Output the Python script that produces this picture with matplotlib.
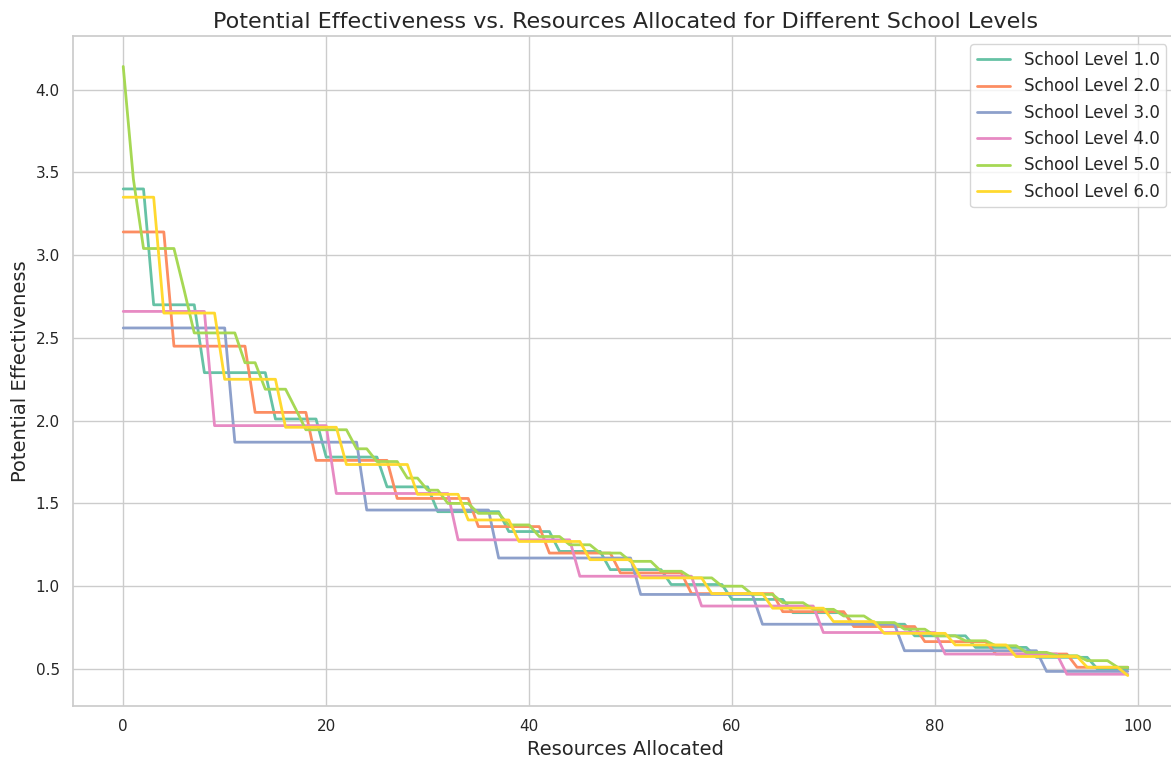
import numpy as np
import matplotlib
matplotlib.use("Agg")
import matplotlib.pyplot as plt
import seaborn as sns

# x positions where each step begins, and the value held from there on
resources = np.arange(100)

lvl1_start = [0, 3, 8, 15, 20, 26, 31, 38, 43, 48, 54, 60, 66, 72, 78, 84, 90, 96]
lvl1_value = [3.40, 2.70, 2.29, 2.01, 1.78, 1.60, 1.45, 1.33, 1.21, 1.10, 1.01, 0.92,
              0.84, 0.77, 0.70, 0.63, 0.57, 0.50]

lvl2_start = [0, 5, 13, 19, 27, 35, 42, 49, 56, 65, 72, 79, 86, 94]
lvl2_value = [3.14, 2.45, 2.05, 1.76, 1.53, 1.36, 1.20, 1.08, 0.955, 0.846, 0.756,
              0.665, 0.59, 0.51]

lvl3_start = [0, 11, 24, 37, 51, 63, 77, 91]
lvl3_value = [2.56, 1.87, 1.46, 1.17, 0.95, 0.77, 0.61, 0.485]

lvl4_start = [0, 9, 21, 33, 45, 57, 69, 81, 93]
lvl4_value = [2.66, 1.97, 1.56, 1.28, 1.06, 0.88, 0.72, 0.59, 0.468]

lvl5_start = [0, 1, 2, 6, 7, 12, 14, 17, 18, 23, 25, 28, 30, 32, 35, 38, 41, 44, 47,
              50, 53, 56, 59, 62, 65, 68, 71, 74, 77, 80, 83, 86, 89, 92, 95, 98]
lvl5_value = [4.14, 3.46, 3.04, 2.79, 2.53, 2.35, 2.19, 2.07, 1.945, 1.83, 1.753, 1.653,
              1.58, 1.50, 1.44, 1.37, 1.30, 1.25, 1.20, 1.15, 1.09, 1.05, 1.00, 0.95,
              0.90, 0.86, 0.82, 0.78, 0.74, 0.70, 0.67, 0.64, 0.60, 0.58, 0.55, 0.51]

lvl6_start = [0, 4, 10, 16, 22, 29, 34, 39, 46, 51, 58, 64, 70, 75, 82, 88, 95, 99]
lvl6_value = [3.35, 2.65, 2.25, 1.96, 1.735, 1.555, 1.40, 1.27, 1.16, 1.05, 0.955,
              0.867, 0.786, 0.715, 0.645, 0.575, 0.51, 0.46]

levels = [1.0, 2.0, 3.0, 4.0, 5.0, 6.0]
starts = [lvl1_start, lvl2_start, lvl3_start, lvl4_start, lvl5_start, lvl6_start]
values = [lvl1_value, lvl2_value, lvl3_value, lvl4_value, lvl5_value, lvl6_value]


def expand(start, value):
    runs = np.diff(start + [len(resources)])
    return np.repeat(value, runs)


sns.set_theme(style="whitegrid")
colors = sns.color_palette("Set2", 6)

fig = plt.figure(figsize=(11.71, 7.58), dpi=100)
ax = fig.add_axes([73 / 1171, 1 - 706 / 758, (1178 - 73) / 1171, (706 - 36) / 758])

for lv, st, va, c in zip(levels, starts, values, colors):
    ax.plot(resources, expand(st, va), color=c, linewidth=2, label=f"School Level {lv}")

ax.set_xlim(-4.95, 103.95)
ax.set_ylim(0.276, 4.324)
ax.set_title("Potential Effectiveness vs. Resources Allocated for Different School Levels",
             fontsize=16)
ax.set_xlabel("Resources Allocated", fontsize=14)
ax.set_ylabel("Potential Effectiveness", fontsize=14)
ax.tick_params(labelsize=11)
ax.legend(loc="upper right", fontsize=12, bbox_to_anchor=(0.997, 1.0))

fig.savefig("out.png", dpi=100)
